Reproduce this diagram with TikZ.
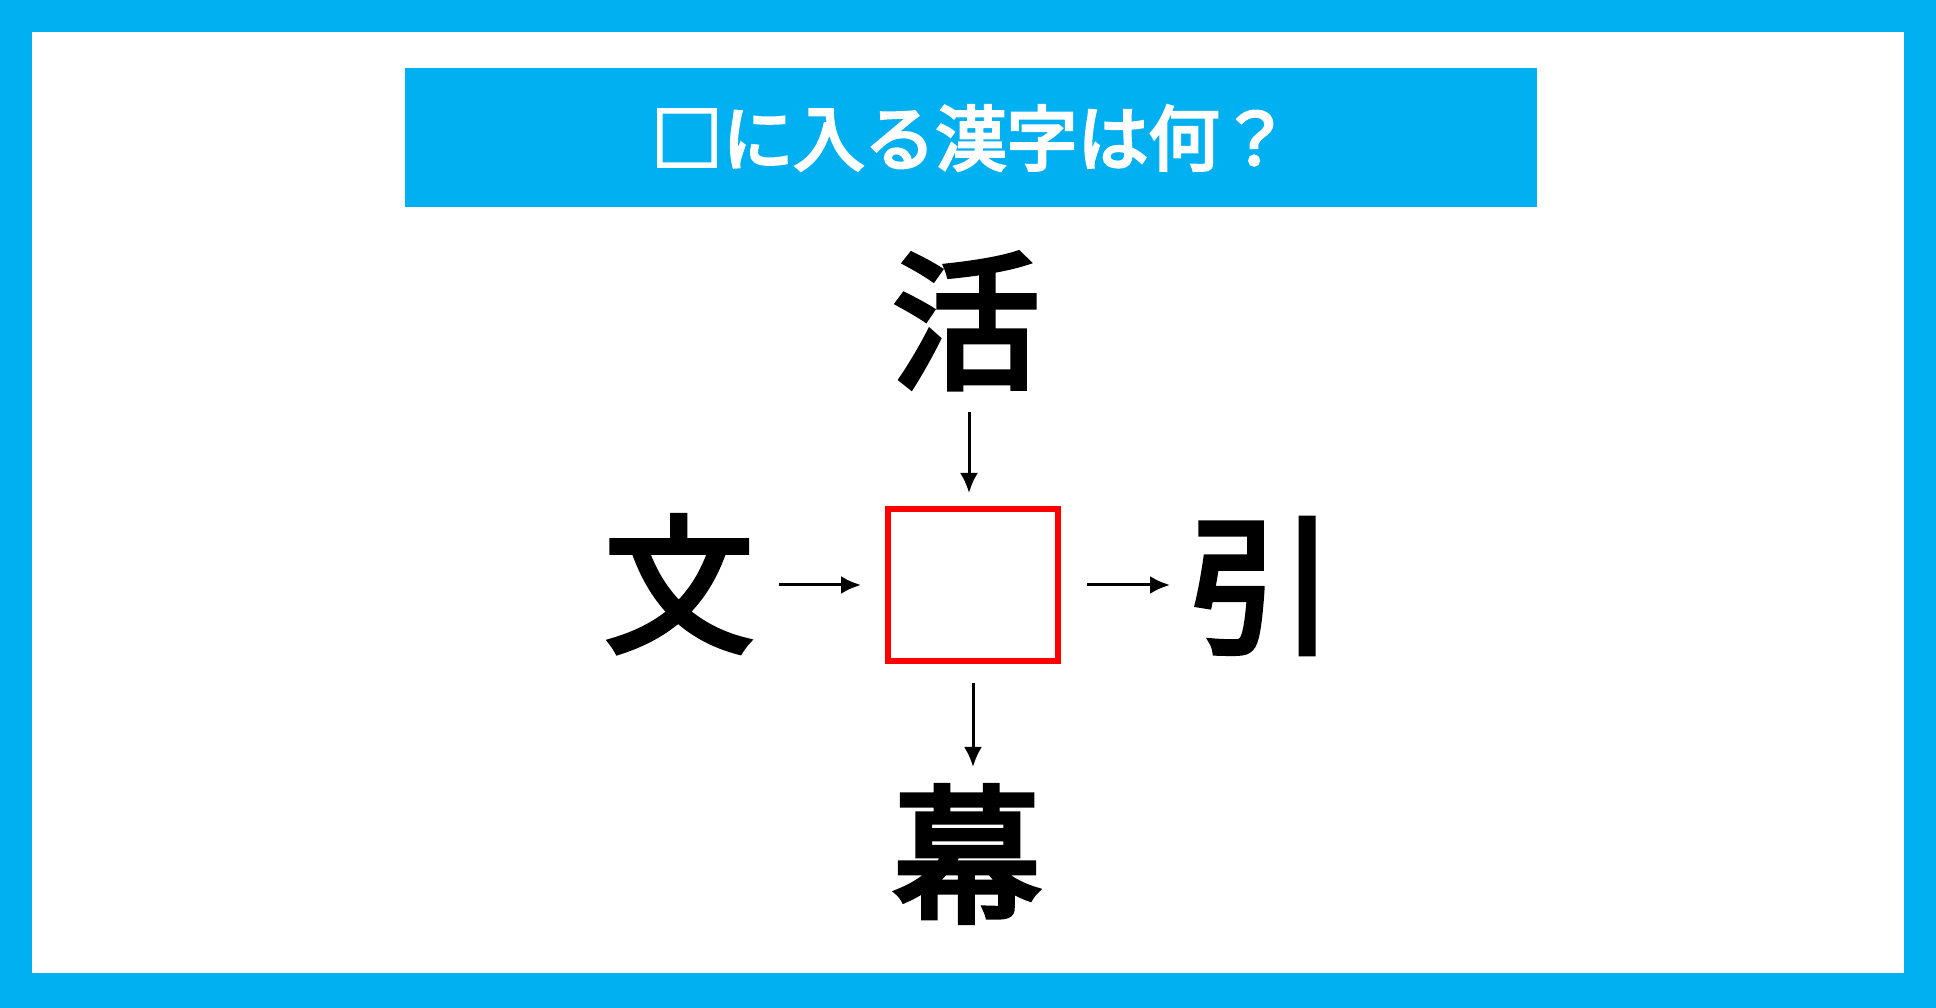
\documentclass[tikz,border=0pt]{standalone}
\usepackage{fontspec}
\usepackage{tikz}
\usetikzlibrary{arrows.meta}
\usetikzlibrary{positioning}

\newfontfamily\jpfont{Noto Sans CJK JP}[FakeBold=4]
\definecolor{skyblue}{HTML}{00B0F0}
\definecolor{boxred}{HTML}{FF0000}

\begin{document}
\begin{tikzpicture}[x=1pt, y=1pt]
\tikzstyle{kanji} = [inner sep=0pt, font=\jpfont\fontsize{148}{148}\selectfont]
\tikzstyle{titlebar} = [fill=skyblue, text=white, inner sep=0pt, minimum width=1132pt, minimum height=139pt, font=\jpfont\fontsize{71}{71}\selectfont]
\tikzstyle{blank} = [draw=boxred, line width=6pt, minimum width=170pt, minimum height=152pt]
\tikzstyle{arr} = [line width=3pt, -{Latex[length=20pt, width=18pt]}]

% frame
\useasboundingbox (0,0) rectangle (1936,1008);
\fill[skyblue] (0,0) rectangle (1936,1008);
\fill[white] (32,35) rectangle (1904,976);

\node[titlebar] (title) at (971,870) {□に入る漢字は何？};

\node[blank] (box) at (973,423) {};

\foreach \name/\x/\y/\kj in {katsu/966/687/活, fumi/679/424/文, hiku/1261/422/引, maku/967/154/幕} {
\node[kanji] (\name) at (\x,\y) {\kj};
}

\draw[arr, shorten <=91pt, shorten >=92pt] ([xshift=-4pt]box.center |- katsu.center) -- ([xshift=-4pt]box.center);
\draw[arr, shorten <=100pt, shorten >=112pt] (fumi.center |- box.center) -- (box.center);
\draw[arr, shorten <=114pt, shorten >=91pt] (box.center) -- (hiku.center |- box.center);
\draw[arr, shorten <=98pt, shorten >=87pt] (box.center) -- (box.center |- maku.center);

\end{tikzpicture}
\end{document}
